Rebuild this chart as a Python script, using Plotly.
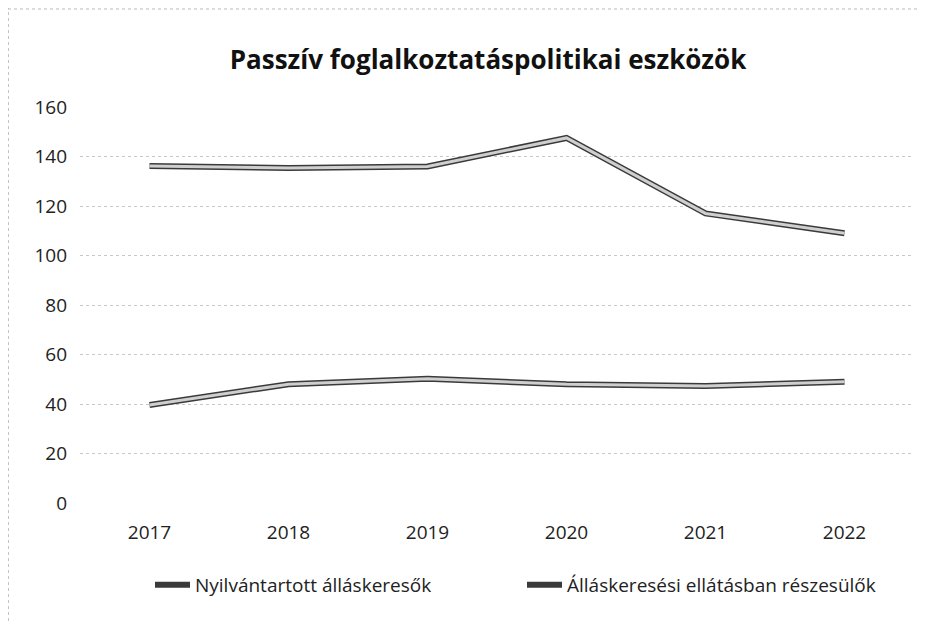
import plotly.graph_objects as go

years = ["2017", "2018", "2019", "2020", "2021", "2022"]
nyilvantartott = [136.2, 135.4, 136.0, 147.5, 117.0, 109.0]
ellatasban = [39.6, 48.0, 50.2, 48.0, 47.3, 49.0]
series_names = ["Nyilvántartott álláskeresők", "Álláskeresési ellátásban részesülők"]
y_ticks = [0, 20, 40, 60, 80, 100, 120, 140, 160]

# page body has an 8px margin: figure is laid out in page coords minus 8
W, H = 922, 613
L, R, T, B = 72, 16, 99, 118
PW, PH = W - L - R, H - T - B

fig = go.Figure()
for name, vals in zip(series_names, [nyilvantartott, ellatasban]):
    fig.add_trace(go.Scatter(x=years, y=vals, mode="lines", name=name, legendgroup=name,
                             line=dict(color="#3a3a3a", width=6)))
    fig.add_trace(go.Scatter(x=years, y=vals, mode="lines", name=name, legendgroup=name,
                             showlegend=False, hoverinfo="skip",
                             line=dict(color="#cfcfcf", width=3)))

fig.update_layout(
    width=W, height=H,
    paper_bgcolor="white", plot_bgcolor="white",
    margin=dict(l=L, r=R, t=T, b=B, autoexpand=False),
    font=dict(family="Open Sans, DejaVu Sans, sans-serif", color="#222222"),
    title=dict(text="<b>Passzív foglalkoztatáspolitikai eszközök</b>",
               x=480 / W, xanchor="center", y=1 - 52 / H, yanchor="middle",
               font=dict(size=26, color="#111111")),
    xaxis=dict(type="category", range=[-0.5, 5.5], showgrid=False, showline=False,
               zeroline=False, tickfont=dict(size=19), ticks="", ticklabelstandoff=16),
    yaxis=dict(range=[0, 160], tickvals=y_ticks, showgrid=True,
               gridcolor="#c8c8c8", griddash="dot", gridwidth=1,
               zeroline=False, showline=False, ticks="",
               tickfont=dict(size=19), ticklabelstandoff=12),
    legend=dict(orientation="h", x=(150 - 8 - L) / PW, xanchor="left",
                y=-(577 - (H - B)) / PH, yanchor="middle",
                font=dict(size=19), itemwidth=35, entrywidth=322, tracegroupgap=0),
    shapes=[dict(type="line", xref="paper", yref="paper",
                 x0=-L / PW, x1=-L / PW, y0=-B / PH, y1=1 + T / PH,
                 line=dict(color="#888888", width=1, dash="dot")),
            dict(type="line", xref="paper", yref="paper",
                 x0=-L / PW, x1=1 + 6 / PW, y0=1 + (T - 1) / PH, y1=1 + (T - 1) / PH,
                 line=dict(color="#bbbbbb", width=1, dash="dot"))],
)

fig.write_html("out.html")
